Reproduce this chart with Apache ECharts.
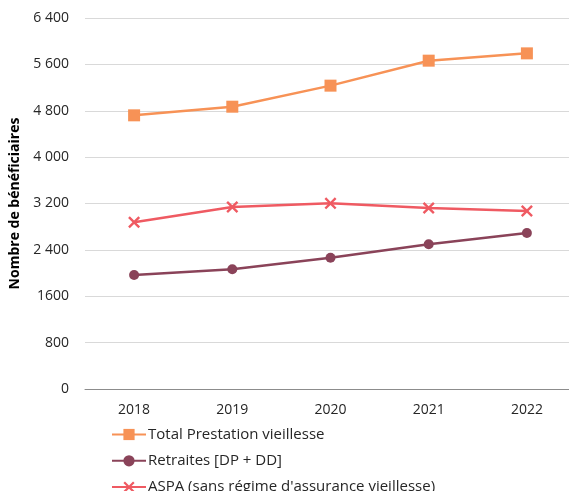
<!DOCTYPE html>
<html><head><meta charset="utf-8">
<script src="https://cdn.jsdelivr.net/npm/echarts@6/dist/echarts.min.js"></script>
<style>html,body{margin:0;padding:0;background:#fff}#c{width:569px;height:491px}</style>
</head><body><div id="c"></div>
<script>
const years = ['2018','2019','2020','2021','2022'];
const totalPrestation = [4721, 4870, 5233, 5664, 5790];
const retraites = [1967, 2065, 2265, 2496, 2691];
const aspa = [2876, 3140, 3203, 3122, 3071];
const yTickValues = [0, 800, 1600, 2400, 3200, 4000, 4800, 5600, 6400];
const yTickLabels = ['0', '800', '1600', '2 400', '3 200', '4 000', '4 800', '5 600', '6 400'];
const seriesNames = ['Total Prestation vieillesse', 'Retraites [DP + DD]', 'ASPA (sans régime d\'assurance vieillesse)'];

const FONT = 'Open Sans';
const crossPath = 'path://M0,1.4L1.4,0L5,3.6L8.6,0L10,1.4L6.4,5L10,8.6L8.6,10L5,6.4L1.4,10L0,8.6L3.6,5Z';
const chart = echarts.init(document.getElementById('c'), null, {renderer:'canvas'});
chart.setOption({
  animation:false,
  textStyle:{fontFamily:FONT},
  grid:{left:85, top:18, width:491, bottom:102, containLabel:false, outerBoundsMode:'none'},
  legend:{
    orient:'vertical', left:106, top:422, height:80, itemWidth:34, itemHeight:14, itemGap:11.3,
    textStyle:{fontFamily:FONT, fontSize:15, color:'#262626', padding:[0,0,0,-3]},
    data:seriesNames
  },
  xAxis:{
    type:'category', data:years, boundaryGap:true,
    axisLine:{lineStyle:{color:'#8c8c8c', width:1}},
    axisTick:{show:false},
    axisLabel:{fontFamily:FONT, fontSize:14, color:'#262626', margin:14}
  },
  yAxis:{
    type:'value', min:0, max:6400, interval:800,
    name:'Nombre de bénéficiaires', nameLocation:'middle', nameGap:63,
    nameTextStyle:{fontFamily:FONT, fontWeight:'bold', fontSize:14, color:'#000'},
    axisLine:{show:false}, axisTick:{show:false},
    axisLabel:{fontFamily:FONT, fontSize:14, color:'#262626', margin:16,
      formatter:function(v){const i=yTickValues.indexOf(v);return i>=0?yTickLabels[i]:'';}},
    splitLine:{lineStyle:{color:'#d9d9d9', width:1}}
  },
  series:[
    {name:seriesNames[0], type:'line', data:totalPrestation, symbol:'rect', symbolSize:12,
      itemStyle:{color:'#F79256'}, lineStyle:{color:'#F79256', width:2.5}},
    {name:seriesNames[1], type:'line', data:retraites, symbol:'circle', symbolSize:10,
      itemStyle:{color:'#8A4359'}, lineStyle:{color:'#8A4359', width:2.5}},
    {name:seriesNames[2], type:'line', data:aspa, symbol:crossPath, symbolSize:12,
      itemStyle:{color:'#EF5A62'}, lineStyle:{color:'#EF5A62', width:2.5}}
  ]
});
</script></body></html>
